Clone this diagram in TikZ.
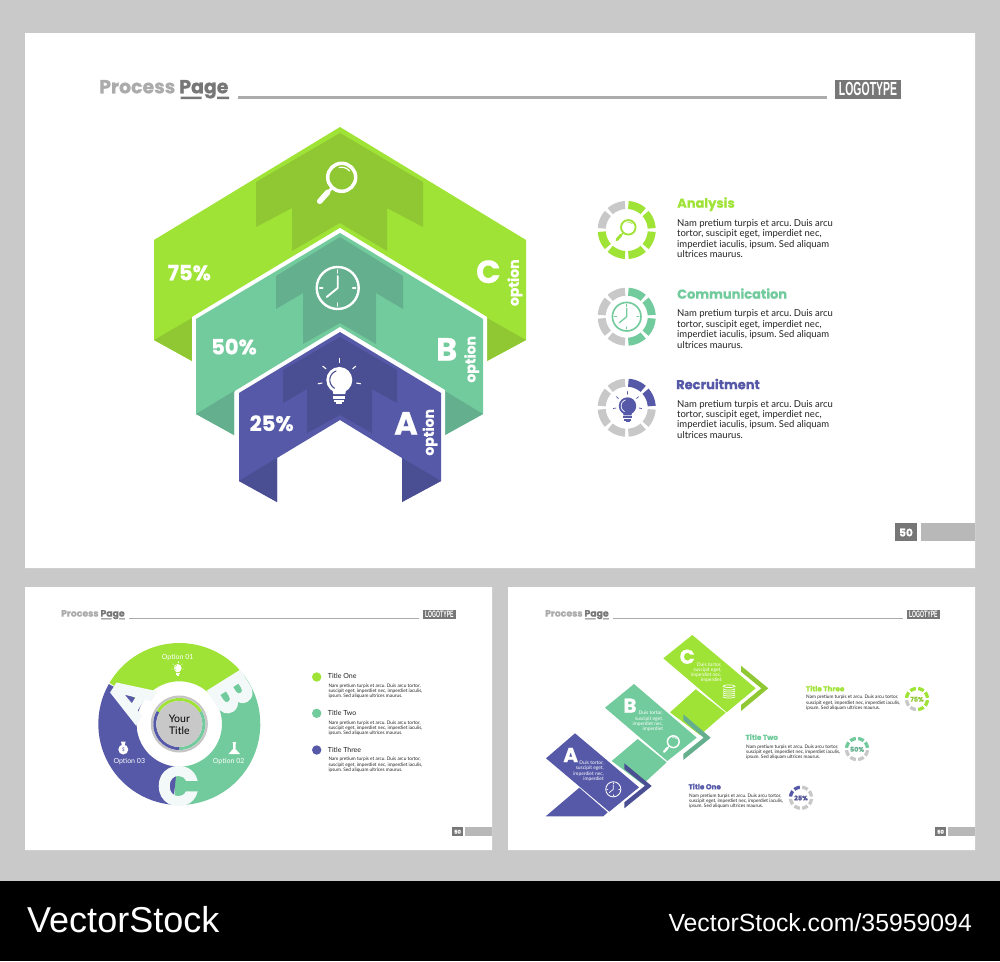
\documentclass[tikz,border=0pt]{standalone}
\usepackage{fontspec}
\setmainfont{Lato}
\frenchspacing
\newfontfamily\headf[BoldFeatures={FakeBold=0.7}]{Poppins}
\newfontfamily\heavyf[BoldFeatures={FakeBold=3}]{Poppins}
\newfontfamily\logof{Liberation Sans}
\definecolor{gl}{HTML}{A0E337}\definecolor{gd}{HTML}{8FC832}
\definecolor{tl}{HTML}{72CB9C}\definecolor{td}{HTML}{64AF8E}
\definecolor{bl}{HTML}{5559A8}\definecolor{bd}{HTML}{4A4E92}
\definecolor{bgg}{HTML}{C9C9C9}\definecolor{ringg}{HTML}{C8C8C8}
\definecolor{hl}{HTML}{ABABAB}\definecolor{hd}{HTML}{777777}
\definecolor{bod}{HTML}{222222}\definecolor{letw}{HTML}{F3F9F9}
\newcommand{\fz}[1]{\fontsize{#1}{#1}\selectfont}
\tikzset{
  bigtxt/.style={text=white,font=\headf\bfseries\fz{#1},inner sep=0pt},
  hvytxt/.style={text=letw,font=\heavyf\bfseries\fz{#1},inner sep=0pt},
  bodytxt/.style={text=bod,font=\fz{#1},anchor=base west,inner sep=0pt,yshift=-#1*0.3pt},
  headtxt/.style={font=\headf\bfseries\fz{#1},anchor=base west,inner sep=0pt,yshift=-#1*0.36pt},
  whitetxt/.style={text=white,font=\fz{#1},anchor=base east,inner sep=0pt,yshift=-#1*0.3pt},
}
% band: cx cy r w a1 a2 color
\newcommand{\band}[7]{\draw[line width=#4pt,#7] plot[domain=#5:#6,samples=30] ({#1+#3*cos(\x)},{#2-#3*sin(\x)});}
% ring: cx cy r w startangle nseg nfilled color
\newcommand{\ring}[8]{%
  \pgfmathsetmacro\segw{360/#6}\pgfmathsetmacro\hg{#3<15?6.5:3.8}%
  \foreach \i in {1,...,#6}{%
    \pgfmathsetmacro\aa{#5-(\i-1)*\segw-\hg}%
    \pgfmathsetmacro\ab{#5-\i*\segw+\hg}%
    \ifnum\i>#7\relax\band{#1}{#2}{#3}{#4}{\aa}{\ab}{ringg}\else\band{#1}{#2}{#3}{#4}{\aa}{\ab}{#8}\fi
  }}
% icons: cx cy s colour (and second colour for bulb)
\newcommand{\magicon}[4]{\begin{scope}[shift={(#1,#2)},scale=#3,#4,line cap=round]
  \draw[line width=#3*3.5pt] (0,0) circle (14);
  \draw[line width=#3*2.5pt] (-10,11) -- (-14,15);
  \draw[line width=#3*5.5pt] (-14,15) -- (-22,24);
  \draw[line width=#3*1.2pt] plot[domain=40:105,samples=12] ({10*cos(\x)},{-10*sin(\x)});
\end{scope}}
\newcommand{\clockicon}[4]{\begin{scope}[shift={(#1,#2)},scale=#3,#4,line cap=round]
  \draw[line width=#3*2.4pt] (0,0) circle (21);
  \draw[line width=#3*1.9pt] (0,0) -- (0,-12) (0,0) -- (-11,9);
  \draw[line width=#3*1.5pt] (0,-18) -- (0,-15) (0,18) -- (0,15) (-18,0) -- (-15,0) (18,0) -- (15,0);
\end{scope}}
\newcommand{\bulbicon}[5]{\begin{scope}[shift={(#1,#2)},scale=#3,#4,line cap=round]
  \fill (0,0) circle (13);
  \fill (-7,8) -- (7,8) -- (6,14) -- (-6,14) -- cycle;
  \fill (-6,15.5) rectangle (6,18.5);
  \fill (-5,19.5) rectangle (5,22);
  \fill (-3,22) rectangle (3,24);
  \draw[line width=#3*1.1pt,#5] plot[domain=110:240,samples=12] ({9.5*cos(\x)},{-9.5*sin(\x)});
  \foreach \a in {90,40,140,-10,190}{\draw[line width=#3*1.1pt] ({17.5*cos(\a)},{-17.5*sin(\a)}) -- ({21.5*cos(\a)},{-21.5*sin(\a)});}
\end{scope}}
% header: prefix x y s
\newcommand{\headr}[4]{\begin{scope}[shift={(#2,#3)},scale=#4]
  \node[transform shape,anchor=base west,inner sep=0pt,font=\headf\bfseries\fz{18.9}] (#1title) at (0,7.3) {\textcolor{hl}{Process} \textcolor{hd}{Page}};
  \fill[hd] (81.7,10.7) rectangle (102.7,13) (118,10.7) rectangle (130,13);
  \fill[hl] (139,9.5) rectangle (728,12.5);
  \fill[hd] (736,-6) rectangle (802,12.5);
  \node[transform shape,xscale=0.55,text=white,inner sep=0pt,font=\logof\bfseries\fz{19}] (#1logo) at (769,3.2) {LOGOTYPE};
\end{scope}}
% page number: prefix x y s endx
\newcommand{\pagen}[5]{\begin{scope}[shift={(#2,#3)},scale=#4]
  \fill[hd] (0,0) rectangle (22,18);
  \fill[hl!85!white] (26,0) rectangle ({(#5-#2)/#4},18);
  \node[transform shape,text=white,inner sep=0pt,font=\headf\bfseries\fz{10.5}] (#1num) at (11,9.5) {50};
\end{scope}}
\newcommand{\threeline}[6]{%prefix x y1 y2 y3 size
  \node[bodytxt=#6] (#1a) at (#2,#3) {Nam pretium turpis et arcu. Duis arcu tortor,};
  \node[bodytxt=#6] (#1b) at (#2,#4) {suscipit eget, imperdiet nec, imperdiet iaculis,};
  \node[bodytxt=#6] (#1c) at (#2,#5) {ipsum. Sed aliquam ultrices maurus.};}
\newcommand{\fourline}[6]{%prefix x y1 y2 y3 y4
  \node[bodytxt=9.5] (#1a) at (#2,#3) {Nam pretium turpis et arcu. Duis arcu};
  \node[bodytxt=9.5] (#1b) at (#2,#4) {tortor, suscipit eget, imperdiet nec,};
  \node[bodytxt=9.5] (#1c) at (#2,#5) {imperdiet iaculis, ipsum. Sed aliquam};
  \node[bodytxt=9.5] (#1d) at (#2,#6) {ultrices maurus.};}
\newcommand{\duis}[6]{%prefix x y1 y2 y3 y4
  \node[whitetxt=4.9] (#1a) at (#2,#3) {Duis tortor,};
  \node[whitetxt=4.9] (#1b) at (#2,#4) {suscipit eget,};
  \node[whitetxt=4.9] (#1c) at (#2,#5) {imperdiet nec,};
  \node[whitetxt=4.9] (#1d) at (#2,#6) {imperdiet};}
\begin{document}
\begin{tikzpicture}[x=1pt,y=-1pt]
\useasboundingbox (0,0) rectangle (1000,961);
\fill[bgg] (0,0) rectangle (1000,881);
\fill[black] (0,881) rectangle (1000,961);
\fill[white] (25,33) rectangle (975,568) (25,587) rectangle (492,850) (508,587) rectangle (975,850);
\headr{m}{99}{86}{1}
\headr{l}{61}{613}{0.492}
\headr{r}{545}{613}{0.492}
\pagen{m}{895}{523}{1}{975}
\pagen{l}{452}{827}{0.5}{492}
\pagen{r}{935}{827}{0.5}{975}
% --- main chevrons C
\fill[gl] (340,127) -- (526,240) -- (526,340) -- (487,361) -- (487,320) -- (340,228) -- (192,320) -- (192,361) -- (154,340) -- (154,240) -- cycle;
\fill[gd] (340,133) -- (423,182) -- (423,227) -- (387,208) -- (387,251) -- (340,223) -- (292,251) -- (292,208) -- (256,227) -- (256,182) -- cycle;
\fill[gd] (154,340) -- (192,318) -- (192,361) -- cycle (526,340) -- (487,318) -- (487,361) -- cycle;
% B
\fill[white] (340,228) -- (487,317) -- (487,440) -- (192,440) -- (192,317) -- cycle;
\fill[tl] (340,233) -- (483,319) -- (483,414) -- (445,435) -- (445,392) -- (340,328) -- (234,392) -- (234,435) -- (196,414) -- (196,319) -- cycle;
\fill[td] (340,237) -- (403,276) -- (403,309) -- (376,293) -- (376,344) -- (340,323) -- (303,344) -- (303,293) -- (276,309) -- (276,276) -- cycle;
\fill[td] (196,414) -- (234,391) -- (234,435) -- cycle (483,414) -- (445,391) -- (445,435) -- cycle;
% A
\fill[white] (340,327) -- (445,390) -- (445,505) -- (235,505) -- (235,391) -- cycle;
\fill[bl] (340,332) -- (441,393) -- (441,481) -- (402,502) -- (402,458) -- (340,420) -- (277,458) -- (277,502) -- (239,481) -- (239,393) -- cycle;
\fill[bd] (340,337) -- (397,370) -- (397,403) -- (372,389) -- (372,433) -- (340,415) -- (307,433) -- (307,389) -- (283,403) -- (283,370) -- cycle;
\fill[bd] (239,481) -- (277,458) -- (277,502) -- cycle (441,481) -- (402,458) -- (402,502) -- cycle;
% labels
\node[bigtxt=21] (p75) at (189.3,272.7) {75\%};
\node[bigtxt=21] (p50) at (234,346.7) {50\%};
\node[bigtxt=21] (p25) at (271.7,423.3) {25\%};
\node[bigtxt=32] (lc) at (488.3,271.7) {C};
\node[bigtxt=32] (lb) at (446.7,349.3) {B};
\node[bigtxt=32] (la) at (406,423.3) {A};
\node[bigtxt=14,rotate=90] (oc) at (515,282.7) {option};
\node[bigtxt=14,rotate=90] (ob) at (471.7,359.3) {option};
\node[bigtxt=14,rotate=90] (oa) at (430,432.3) {option};
\magicon{341.7}{177.3}{1}{white}
\clockicon{337.7}{288}{1}{white}
\bulbicon{339.3}{380}{1}{white}{bd}
% right column
\ring{626.7}{230}{25}{8}{90}{8}{6}{gl}
\ring{626.7}{316.7}{25}{8}{90}{8}{4}{tl}
\ring{626.7}{407.7}{25}{8}{90}{8}{2}{bl}
\magicon{628.3}{227.3}{0.52}{gl}
\clockicon{626.7}{316.7}{0.68}{tl}
\bulbicon{627.5}{406}{0.67}{bl}{white}
\node[headtxt=13,text=gl] (t1) at (677,203) {Analysis};
\node[headtxt=13,text=tl] (t2) at (677,294) {Communication};
\node[headtxt=13,text=bl] (t3) at (676,384.5) {Recruitment};
\fourline{ba}{677}{223.3}{233.7}{244.3}{254.7}
\fourline{bb}{677}{314}{324.7}{335}{345.7}
\fourline{bc}{677}{404.5}{415}{425}{435.7}
% --- donut
\band{179.3}{724}{61.85}{38.3}{40}{150}{gl}
\band{179.3}{724}{61.85}{38.3}{-94}{40}{tl}
\band{179.3}{724}{61.85}{38.3}{150}{266}{bl}
\node[hvytxt=54,rotate=58] (da) at (130,698) {A};
\node[hvytxt=54,rotate=-58] (db) at (231.7,693) {B};
\node[hvytxt=54] (dc) at (178.3,786) {C};
\fill[hl!70!white] (179.3,724) circle (28.5);
\fill[white] (179.3,724) circle (26.2);
\band{179.3}{724}{24.5}{3}{30}{150}{gl}
\band{179.3}{724}{24.5}{3}{-90}{30}{tl}
\band{179.3}{724}{24.5}{3}{150}{270}{bl}
\fill[ringg] (179.3,724) circle (23);
\node[inner sep=0pt,text=black,align=center,font=\fontsize{10.5}{11.7}\selectfont] (yt) at (179.3,725) {Your\\Title};
\node[inner sep=0pt,text=white,font=\fz{7}] (o1) at (177.7,657.3) {Option 01};
\node[inner sep=0pt,text=white,font=\fz{7}] (o2) at (228.7,761.7) {Option 02};
\node[inner sep=0pt,text=white,font=\fz{7}] (o3) at (129.3,761.7) {Option 03};
\bulbicon{177.7}{668}{0.3}{white}{gl}
% flask
\fill[white] (232.5,742) rectangle (236,743) (233,743) -- (235.5,743) -- (235.5,749) -- (240,754) -- (228.5,754) -- (233,749) -- cycle;
% money bag
\fill[white] (123.3,749.5) circle (5) (121,741.5) -- (125.6,741.5) -- (124.8,745) -- (121.8,745) -- cycle;
\node[inner sep=0pt,text=bl,font=\fz{5}] (dollar) at (123.3,749.5) {\$};
% legend
\fill[gl] (316.7,677) circle (4.7);
\fill[tl] (316.7,713.3) circle (4.7);
\fill[bl] (316.7,750) circle (4.7);
\node[bodytxt=7] (lt1) at (327.7,676.7) {Title One};
\node[bodytxt=7] (lt2) at (327.7,713) {Title Two};
\node[bodytxt=7] (lt3) at (327.7,750) {Title Three};
\threeline{la1}{328.3}{686}{691.3}{696.3}{4.75}
\threeline{la2}{328.3}{722.7}{728}{733}{4.75}
\threeline{la3}{328.3}{759.3}{764.7}{770.3}{4.75}
% --- staircase
\fill[gl] (670,712.3) -- (695.7,689.3) -- (725.7,712.7) -- (700,735) -- cycle;
\fill[tl] (611.7,761) -- (637.7,739) -- (666.7,762.3) -- (642.7,784.3) -- cycle;
\fill[bl] (575,733.3) -- (639,787.3) -- (609.3,811.7) -- (546,758.3) -- cycle;
\fill[bl] (579.3,787.7) -- (607.7,812.3) -- (603.3,816.3) -- (545.7,816.3) -- cycle;
\fill[tl] (634,684) -- (696.7,737.7) -- (667.3,761) -- (605,707.7) -- cycle;
\fill[gl] (692.3,635) -- (755.7,688.3) -- (726.7,712.3) -- (663.3,658.3) -- cycle;
\fill[bd] (624.3,763.3) -- (651.7,786) -- (624.3,808.3) -- (624.3,802.3) -- (645,785.7) -- (624.3,769) -- cycle;
\fill[td] (683.3,714.3) -- (710.7,737.7) -- (683.3,760) -- (683.3,754) -- (703.7,737.7) -- (683.3,720.3) -- cycle;
\fill[gd] (741,665.7) -- (768.3,688.3) -- (741,711) -- (741,705) -- (761.3,688.3) -- (741,671.7) -- cycle;
\node[bigtxt=20] (sa) at (570.7,755) {A};
\node[bigtxt=20] (sb) at (630,705.7) {B};
\node[bigtxt=20] (sc) at (687.3,656.7) {C};
\duis{ds}{604}{763.3}{768.3}{774}{779.3}
\duis{dt}{663.3}{713.3}{718.7}{724}{729.3}
\duis{du}{721.7}{664.7}{670}{675}{680.3}
\clockicon{613.3}{789.3}{0.36}{white}
\magicon{673.3}{741.7}{0.42}{white}
\begin{scope}[shift={(729,691.7)},white,line width=0.7pt]
\draw (0,-5.5) ellipse [x radius=6,y radius=1.3];
\foreach \yy in {-3,-1,1,3,5}{\draw plot[domain=180:360,samples=9] ({6*cos(\x)},{\yy+1.3*sin(\x)*-1});}
\end{scope}
% right titles
\node[headtxt=7.2,text=gl] (s3) at (805.7,688.7) {Title Three};
\node[headtxt=7.2,text=tl] (s2) at (745.3,737.3) {Title Two};
\node[headtxt=7.2,text=bl] (s1) at (688.3,786.7) {Title One};
\threeline{sx}{806}{697.3}{702.7}{708}{4.75}
\threeline{sy}{746}{747}{752}{757}{4.75}
\threeline{sz}{689}{796}{801.3}{806.3}{4.75}
\ring{917}{699}{10.5}{3.3}{180}{8}{6}{gl}
\ring{857}{749}{10.5}{3.3}{180}{8}{4}{tl}
\ring{801}{797.7}{10.5}{3.3}{180}{8}{2}{bl}
\node[font=\headf\bfseries\fz{6.5},inner sep=0pt,text=gd] (r1) at (917,699.3) {75\%};
\node[font=\headf\bfseries\fz{6.5},inner sep=0pt,text=td] (r2) at (857,749.3) {50\%};
\node[font=\headf\bfseries\fz{6.5},inner sep=0pt,text=bd] (r3) at (801,798) {25\%};
% footer
\node[anchor=base west,inner sep=0pt,text=white,font=\logof\fz{36}] (vs) at (27,932.7) {VectorStock};
\node[anchor=base east,inner sep=0pt,text=white,font=\logof\fz{24.8}] (vu) at (972,931) {VectorStock.com/35959094};
\end{tikzpicture}
\end{document}
